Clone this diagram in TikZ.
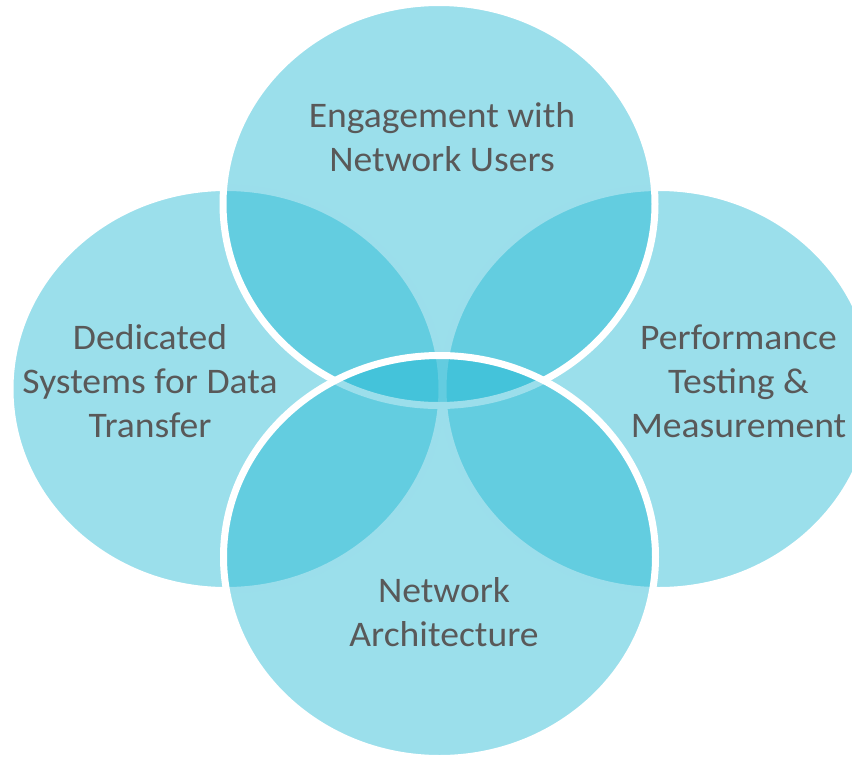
\documentclass[tikz,border=0pt]{standalone}
\usepackage{fontspec}
\setmainfont{Carlito}
\usetikzlibrary{shapes.geometric}
\definecolor{venn}{RGB}{28,182,210}
\definecolor{txt}{RGB}{89,89,89}
\begin{document}
\begin{tikzpicture}[x=1pt,y=-1pt,
  vcircle/.style={ellipse, draw=white, line width=7pt, fill=venn, fill opacity=0.44, draw opacity=1,
    minimum width=432pt, minimum height=403pt, inner sep=0pt, outer sep=0pt},
  vlabel/.style={align=center, text=txt, font=\fontsize{36}{44}\selectfont, inner sep=0pt, text opacity=1,
    xscale=1.045, transform shape}]
\useasboundingbox (0,0) rectangle (852,756);
\clip (0,0) rectangle (852,756);
\node[vcircle] (cl) at (226,389) {};
\node[vcircle] (cr) at (659,389) {};
\node[vcircle] (ct) at (439,204) {};
\node[vcircle] (cb) at (439.5,557) {};
\node[vlabel] (lt) at (442,140.2) {\strut Engagement with\\\strut Network Users};
\node[vlabel] (ll) at (150,384.2) {\strut Dedicated\\\strut Systems for Data\\\strut Transfer};
\node[vlabel] (lr) at (738.5,384.2) {\strut Performance\\\strut Testing \&\\\strut Measurement};
\node[vlabel] (lb) at (444,615.2) {\strut Network\\\strut Architecture};
\end{tikzpicture}
\end{document}
